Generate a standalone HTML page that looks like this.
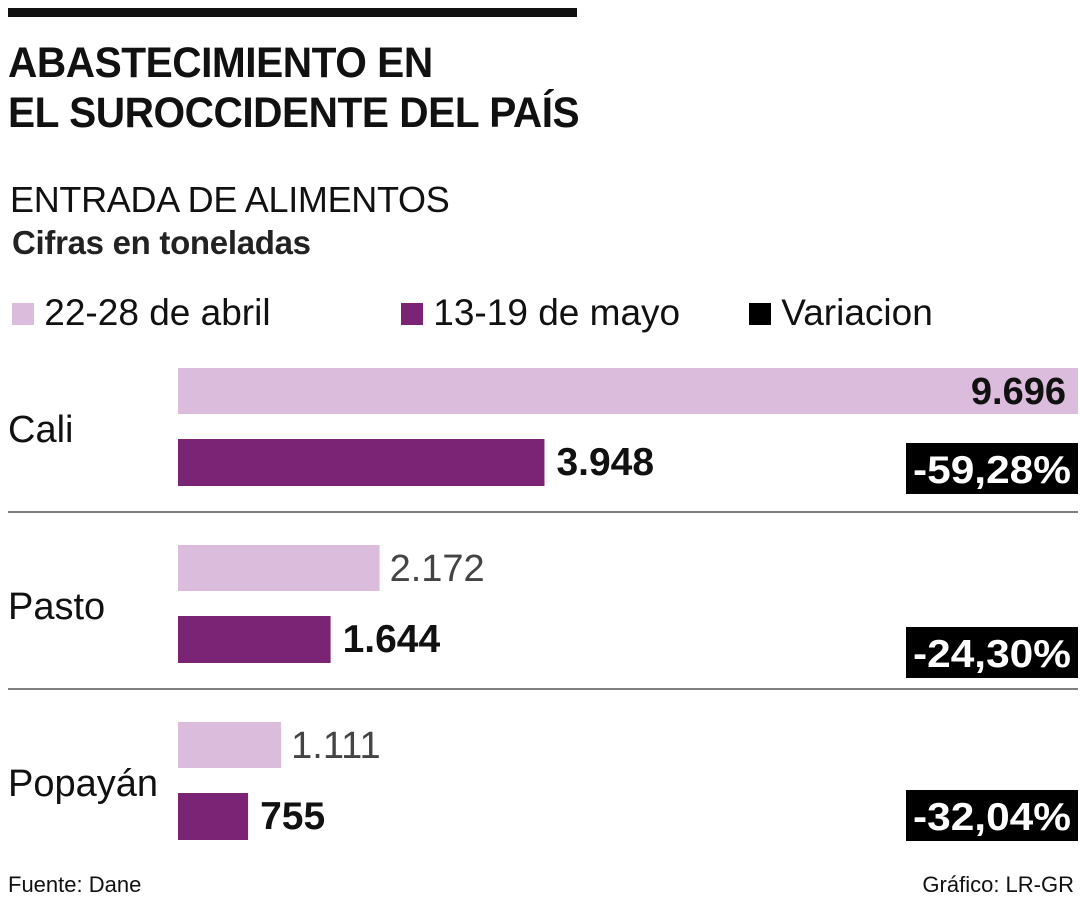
<!DOCTYPE html>
<html><head><meta charset="utf-8">
<style>
body{margin:0;width:1080px;height:900px;background:#fff;font-family:"Liberation Sans",sans-serif;color:#111;position:relative;overflow:hidden}
.a{position:absolute;white-space:nowrap}
</style></head><body>
<div class="a" style="left:8px;top:8px;width:569px;height:9px;background:#111"></div>
<div class="a" style="left:8px;top:38px;font-size:43px;font-weight:bold;line-height:50px;letter-spacing:-0.5px;transform:scaleX(0.945);transform-origin:0 0">ABASTECIMIENTO EN<br>EL SUROCCIDENTE DEL PAÍS</div>
<div class="a" style="left:10px;top:179px;font-size:36px;font-weight:300;letter-spacing:-0.3px">ENTRADA DE ALIMENTOS</div>
<div class="a" style="left:12px;top:224px;font-size:33px;font-weight:bold;letter-spacing:-0.3px;color:#222">Cifras en toneladas</div>
<div class="a" style="left:12px;top:292px;font-size:37px;line-height:42px">
<span><span style="display:inline-block;width:22px;height:22px;background:#dcbcdc"></span> 22-28 de abril</span>
<span style="position:absolute;left:389px"><span style="display:inline-block;width:22px;height:22px;background:#7b2476"></span> 13-19 de mayo</span>
<span style="position:absolute;left:737px"><span style="display:inline-block;width:22px;height:22px;background:#000"></span> Variacion</span>
</div>
<svg id="chart" class="a" style="left:0;top:0" width="1080" height="900"></svg>
<div class="a" style="left:8px;top:872px;font-size:22px">Fuente: Dane</div>
<div class="a" style="right:6px;top:872px;font-size:22px">Gráfico: LR-GR</div>
<script>
const cities=["Cali","Pasto","Popayán"];
const abril=[9696,2172,1111];
const mayo=[3948,1644,755];
const variacion=["-59,28%","-24,30%","-32,04%"];
const abrilLabels=["9.696","2.172","1.111"];
const mayoLabels=["3.948","1.644","755"];
const svg=document.getElementById('chart');
const NS='http://www.w3.org/2000/svg';
const x0=178,x1=1078,maxV=Math.max(...abril);
const xs=v=>(v/maxV)*(x1-x0);
function mk(t,a){const e=document.createElementNS(NS,t);for(const k in a)e.setAttribute(k,a[k]);svg.appendChild(e);return e;}
cities.forEach((c,i)=>{
  const top=368+i*177;
  const t=mk('text',{x:8,y:top+74,'font-size':38,fill:'#111'});t.textContent=c;
  
  
  const b1=mk('rect',{x:x0,y:top,width:xs(abril[i]),height:46,fill:'#dcbcdc'});
  
  
  const b2=mk('rect',{x:x0,y:top+71,width:xs(mayo[i]),height:47,fill:'#7b2476'});
  
  
  const w1=xs(abril[i]);const inside=w1>x1-x0-150;
  const l1=mk('text',{x:inside?x0+w1-12:x0+w1+10,y:top+36,'font-size':38,'text-anchor':inside?'end':'start','font-weight':inside?'bold':'normal',fill:inside?'#111':'#444'});l1.textContent=abrilLabels[i];
  
  
  const l2=mk('text',{x:x0+xs(mayo[i])+12,y:top+107,'font-size':39,'font-weight':'bold',fill:'#111'});l2.textContent=mayoLabels[i];
  
  
  const vy=[443,627,790][i];
  const vb=mk('rect',{x:906,y:vy,width:172,height:51,fill:'#000'});
  
  
  const vt=mk('text',{x:992,y:vy+40,'font-size':39,'font-weight':'bold',fill:'#fff','text-anchor':'middle','textLength':158,'lengthAdjust':'spacingAndGlyphs'});vt.textContent=variacion[i];
  
  
  if(i<cities.length-1){const s=mk('line',{x1:8,x2:1078,y1:top+144,y2:top+144,stroke:'#555','stroke-width':1.5});
  
  }
});
</script>
</body></html>
